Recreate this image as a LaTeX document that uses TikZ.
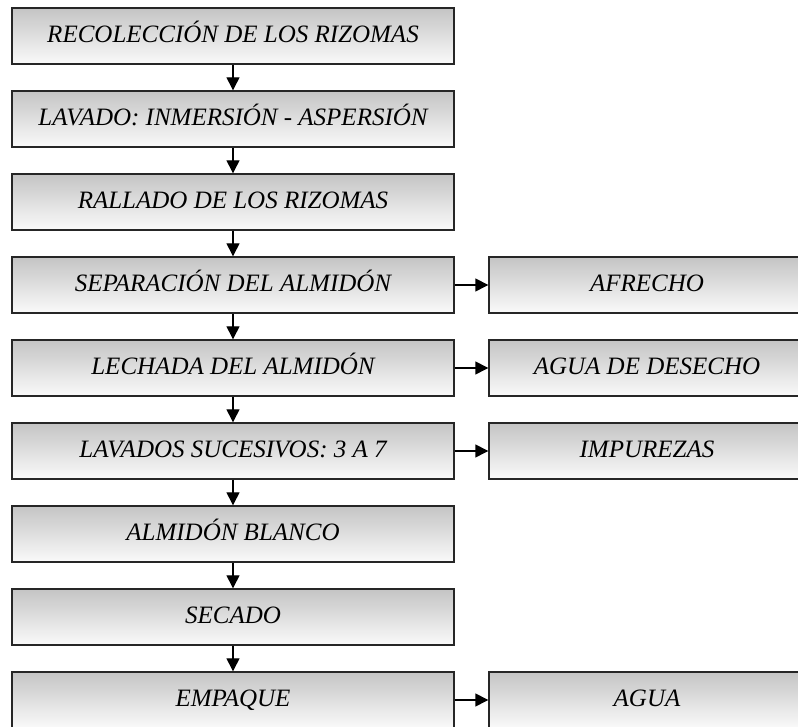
\documentclass[tikz,border=0pt]{standalone}
\usepackage{fontspec}
\setmainfont{Liberation Serif}
\usetikzlibrary{arrows.meta}
\definecolor{boxtop}{RGB}{196,196,196}
\definecolor{boxbot}{RGB}{250,250,250}
\tikzset{
  procbox/.style={draw=black!85,line width=1.4pt,top color=boxtop,bottom color=boxbot,
    minimum width=442pt,minimum height=56pt,inner sep=0pt,text height=17pt,text depth=3pt,
    font=\fontsize{25}{28}\selectfont\itshape},
  outbox/.style={procbox,minimum width=316pt},
  flow/.style={-{Triangle[length=13pt,width=13pt]},line width=1.4pt}
}
\begin{document}
\begin{tikzpicture}[x=1pt,y=1pt]
\useasboundingbox (0,0) rectangle (798,727);
\clip (0,0) rectangle (798,727);
\node[procbox] (s1) at (233,691) {RECOLECCIÓN DE LOS RIZOMAS};
\node[procbox] (s2) at (233,608) {LAVADO: INMERSIÓN - ASPERSIÓN};
\node[procbox] (s3) at (233,525) {RALLADO DE LOS RIZOMAS};
\node[procbox] (s4) at (233,442) {SEPARACIÓN DEL ALMIDÓN};
\node[procbox] (s5) at (233,359) {LECHADA DEL ALMIDÓN};
\node[procbox] (s6) at (233,276) {LAVADOS SUCESIVOS: 3 A 7};
\node[procbox] (s7) at (233,193) {ALMIDÓN BLANCO};
\node[procbox] (s8) at (233,110) {SECADO};
\node[procbox] (s9) at (233,27) {EMPAQUE};
\node[outbox] (o4) at (647,442) {AFRECHO};
\node[outbox] (o5) at (647,359) {AGUA DE DESECHO};
\node[outbox] (o6) at (647,276) {IMPUREZAS};
\node[outbox] (o9) at (647,27) {AGUA};
\foreach \from/\to in {s1/s2,s2/s3,s3/s4,s4/s5,s5/s6,s6/s7,s7/s8,s8/s9}{
  \draw[flow] (\from) -- (\to);}
\foreach \from/\to in {s4/o4,s5/o5,s6/o6,s9/o9}{
  \draw[flow] (\from) -- (\to);}
\end{tikzpicture}
\end{document}
